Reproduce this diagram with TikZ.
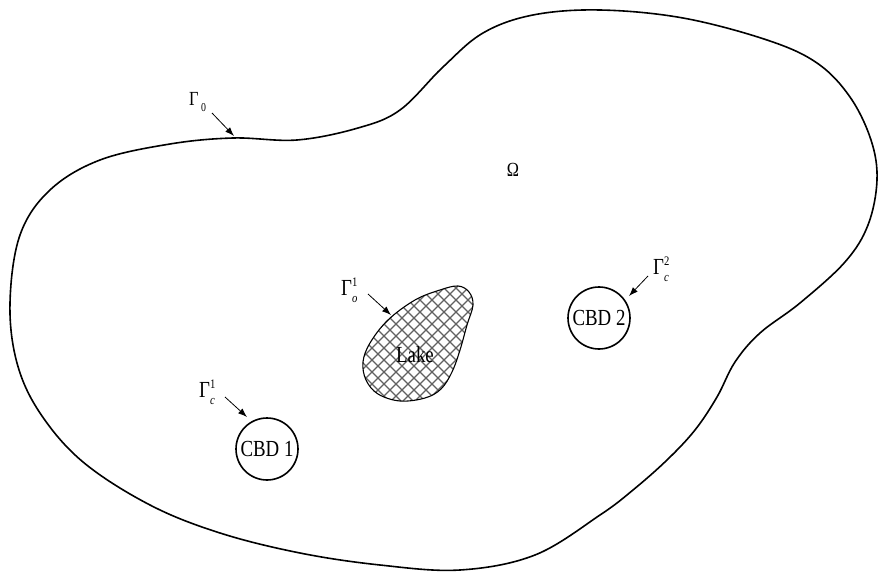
\documentclass[tikz,border=0pt]{standalone}
\usepackage{fontspec}
\setmainfont{Liberation Serif}[FakeStretch=0.82]
\usetikzlibrary{arrows.meta}
\newcommand{\GamSS}[2]{Γ\makebox[0pt][l]{\raisebox{0.4em}{\fontsize{13}{13}\selectfont #1}}\raisebox{-0.3em}{\fontsize{13}{13}\selectfont\itshape #2}\hspace{0.3em}}
\begin{document}
\begin{tikzpicture}[x=1pt,y=-1pt,
  bound/.style={line width=1.6pt},
  cbd/.style={circle,draw,line width=1.6pt,minimum size=62pt,inner sep=0pt,font=\fontsize{23}{26}\selectfont},
  lbl/.style={inner sep=0pt,font=\fontsize{23}{26}\selectfont},
  pointer/.style={line width=0.8pt,-{Latex[length=9pt,width=6.5pt]}},
  hatch/.style={line width=1.2pt,draw=black!62}]
\useasboundingbox (0,0) rectangle (878,572);
% outer boundary
\draw[bound] plot[smooth cycle,tension=0.6] coordinates {
 (10,303) (20,235) (50,190) (100,160) (170,144) (233,138) (297,140) (358,128)
 (400,110) (443,67) (483,33) (533,15) (600,10) (683,18) (767,40) (817,63)
 (850,97) (871,140) (877,180) (868,225) (845,262) (800,303) (760,333)
 (735,362) (717,397) (695,430) (667,460) (633,490) (600,515) (535,555)
 (460,570) (380,565) (300,553) (220,533) (150,505) (83,462) (40,413) (17,363)};
% lake
\def\lakepath{plot[smooth cycle,tension=0.6] coordinates {
 (458,286) (469,292) (473,305) (467,325) (460,350) (452,372) (441,389)
 (425,398) (400,401) (378,394) (366,380) (363,362) (370,343) (388,320)
 (415,300) (440,290)}}
\begin{scope}
\clip \lakepath;
\foreach \c in {-204,-192,...,204}{
  \draw[hatch] (340+\c,280) -- (500+\c,440);
  \draw[hatch] (340+\c,440) -- (500+\c,280);
}
\end{scope}
\draw[line width=1.1pt] \lakepath;
\node[lbl] (lake) at (415,355) {Lake};
\coordinate (lakeb) at (391,315);
% CBDs
\node[cbd] (c1) at (267,449) {CBD 1};
\node[cbd] (c2) at (599,318) {CBD 2};
% labels
\node[lbl,font=\fontsize{20}{24}\selectfont] (omega) at (513,170) {Ω};
\node[lbl,anchor=west,font=\fontsize{20}{24}\selectfont] (g0) at (189,102) {Γ\raisebox{-0.3em}{\fontsize{12}{12}\selectfont\hspace{0.2em}0}};
\coordinate (g0tip) at (234,136);
\node[lbl,anchor=west] (go) at (341,290) {\GamSS{1}{o}};
\node[lbl,anchor=west] (gc1) at (199,392) {\GamSS{1}{c}};
\node[lbl,anchor=west] (gc2) at (653,269) {\GamSS{2}{c}};
% pointers
\draw[pointer] (212,113) -- (g0tip);
\draw[pointer] (368,294) -- (lakeb);
\draw[pointer] (225,397) -- (247,417);
\draw[pointer] (648,276) -- (629,296);
\end{tikzpicture}
\end{document}
